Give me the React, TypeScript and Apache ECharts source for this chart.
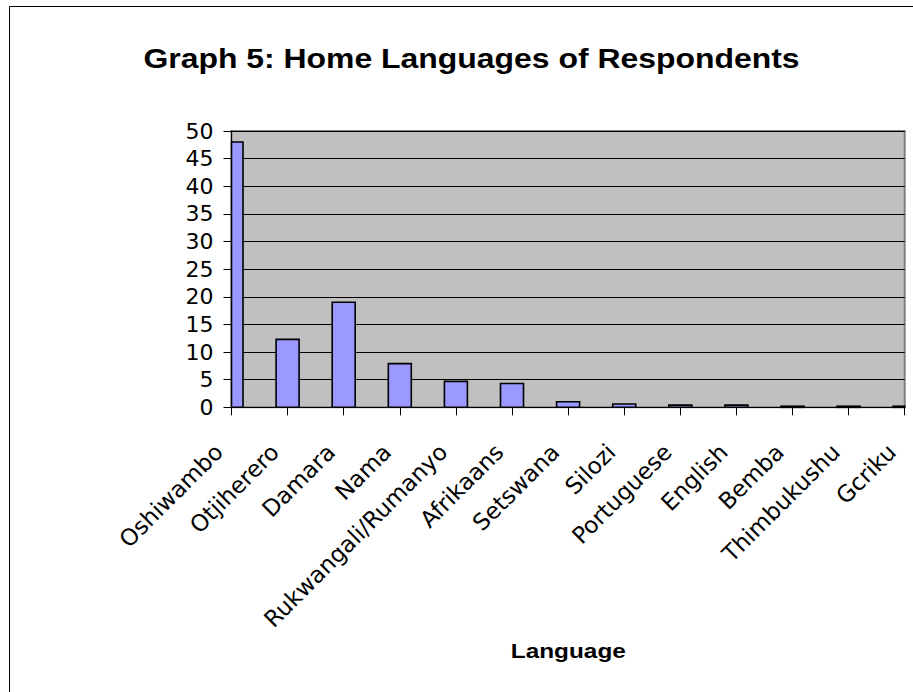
import React, { useEffect, useRef } from "react";
import * as echarts from "echarts";

const languages = [
  "Oshiwambo",
  "Otjiherero",
  "Damara",
  "Nama",
  "Rukwangali/Rumanyo",
  "Afrikaans",
  "Setswana",
  "Silozi",
  "Portuguese",
  "English",
  "Bemba",
  "Thimbukushu",
  "Gcriku",
];

const respondents = [48, 12.3, 19, 7.9, 4.7, 4.3, 1, 0.6, 0.4, 0.4, 0.2, 0.2, 0.2];

const yMin = 0;
const yMax = 50;
const yStep = 5;

const chartTitle = "Graph 5: Home Languages of Respondents";
const xAxisTitle = "Language";

const BAR_WIDTH = 23;

export default function App() {
  const ref = useRef<HTMLDivElement>(null);

  useEffect(() => {
    if (!ref.current) return;
    const chart = echarts.init(ref.current, null, { renderer: "svg" });
    chart.setOption({
      animation: false,
      backgroundColor: "#ffffff",
      graphic: [
        {
          type: "rect",
          shape: { x: 9.5, y: 6.5, width: 1200, height: 1200 },
          style: { fill: "none", stroke: "#000000", lineWidth: 1 },
          silent: true,
        },
        {
          type: "text",
          x: 471.5,
          y: 58,
          scaleX: 1.14,
          style: {
            text: chartTitle,
            fontFamily: "'Liberation Sans', Arial, sans-serif",
            fontWeight: "bold",
            fontSize: 28,
            fill: "#000000",
            textAlign: "center",
            textVerticalAlign: "middle",
          },
        },
        {
          type: "text",
          x: 568.3,
          y: 650.4,
          scaleX: 1.16,
          style: {
            text: xAxisTitle,
            fontFamily: "'Liberation Sans', Arial, sans-serif",
            fontWeight: "bold",
            fontSize: 21,
            fill: "#000000",
            textAlign: "center",
            textVerticalAlign: "middle",
          },
        },
      ],
      grid: {
        left: 231.5,
        right: 8.3,
        top: 131,
        bottom: 284.7,
        show: true,
        backgroundColor: "#C0C0C0",
        borderColor: "#808080",
        borderWidth: 2,
      },
      xAxis: {
        type: "category",
        data: languages,
        boundaryGap: false,
        axisLine: { show: true, lineStyle: { color: "#000000", width: 1 } },
        axisTick: { show: true, length: 8, lineStyle: { color: "#000000", width: 1 } },
        axisLabel: {
          interval: 0,
          rotate: 45,
          margin: 28,
          padding: [0, 18, 0, 0],
          fontFamily: "'DejaVu Sans', sans-serif",
          fontSize: 23,
          color: "#000000",
        },
        splitLine: { show: false },
      },
      yAxis: {
        type: "value",
        min: yMin,
        max: yMax,
        interval: yStep,
        axisLine: { show: true, lineStyle: { color: "#000000", width: 1 } },
        axisTick: { show: true, length: 8, lineStyle: { color: "#000000", width: 1 } },
        axisLabel: {
          margin: 18,
          fontFamily: "'DejaVu Sans', sans-serif",
          fontSize: 22,
          color: "#000000",
        },
        splitLine: { show: true, lineStyle: { color: "#000000", width: 1 } },
      },
      series: [
        {
          // bars sit on the ticks; halves that fall outside the plot are cut off
          type: "custom",
          data: respondents.map((v, i) => [i, v]),
          encode: { x: 0, y: 1 },
          renderItem: (params: any, api: any) => {
            const top = api.coord([api.value(0), api.value(1)]);
            const base = api.coord([api.value(0), 0]);
            const cs = params.coordSys;
            const rect = echarts.graphic.clipRectByRect(
              {
                x: top[0] - BAR_WIDTH / 2,
                y: top[1],
                width: BAR_WIDTH,
                height: base[1] - top[1],
              },
              { x: cs.x, y: cs.y, width: cs.width, height: cs.height }
            );
            if (!rect) return null;
            return {
              type: "rect",
              shape: rect,
              style: { fill: "#9999FF", stroke: "#000000", lineWidth: 1.6 },
            };
          },
        },
      ],
    });
    return () => chart.dispose();
  }, []);

  return (
    <div
      ref={ref}
      style={{ position: "absolute", left: 0, top: 0, width: 913, height: 692 }}
    />
  );
}
